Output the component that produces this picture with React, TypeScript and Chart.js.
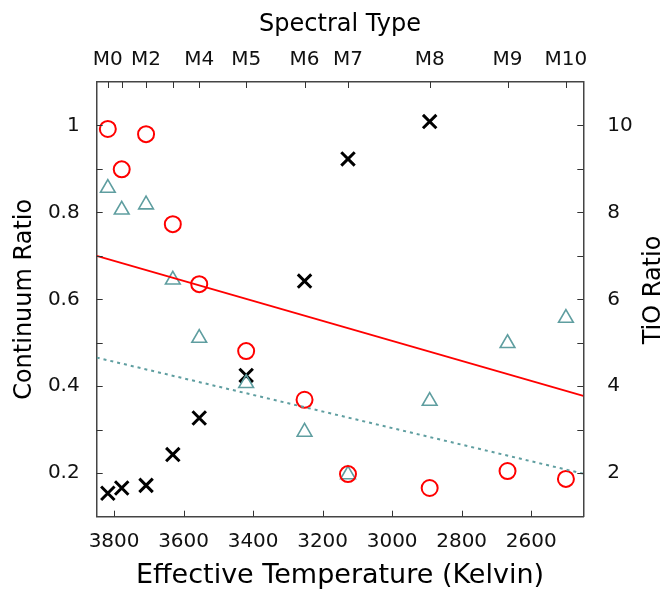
import React, { useEffect, useRef } from 'react';
import { Chart, registerables } from 'chart.js';

Chart.register(...registerables);

// Spectral types and their effective temperatures (K)
const spectralTypes = ['M0', 'M1', 'M2', 'M3', 'M4', 'M5', 'M6', 'M7', 'M8', 'M9', 'M10'];
const spectralLabels = ['M0', '', 'M2', '', 'M4', 'M5', 'M6', 'M7', 'M8', 'M9', 'M10'];
const teff = [3818, 3778, 3708, 3631, 3555, 3420, 3252, 3127, 2892, 2668, 2500];

// Continuum ratio (red circles)
const continuumCircles = [0.992, 0.899, 0.98, 0.773, 0.635, 0.481, 0.369, 0.198, 0.166, 0.205, 0.187];
// Continuum ratio (teal triangles)
const continuumTriangles = [0.856, 0.806, 0.818, 0.645, 0.511, 0.407, 0.295, 0.197, 0.366, 0.499, 0.557];
// TiO ratio (black crosses), M0..M8
const tioTeff = [3818, 3778, 3708, 3631, 3555, 3420, 3252, 3127, 2892];
const tioRatio = [1.54, 1.66, 1.72, 2.43, 3.27, 4.25, 6.42, 9.23, 10.09];

// Linear fits
const fitTeff = [3850, 2450];
const fitCircles = [0.7, 0.378];
const fitTriangles = [0.466, 0.199];

// Axis ticks
const bottomTicks = [3800, 3600, 3400, 3200, 3000, 2800, 2600];
const leftTicks = [0.2, 0.3, 0.4, 0.5, 0.6, 0.7, 0.8, 0.9, 1.0];
const leftLabels = ['0.2', '', '0.4', '', '0.6', '', '0.8', '', '1'];
const rightTicks = [2, 3, 4, 5, 6, 7, 8, 9, 10];
const rightLabels = ['2', '', '4', '', '6', '', '8', '', '10'];

const RED = '#ff0000';
const TEAL = '#5f9ea0';
const FONT = '"DejaVu Sans", Verdana, sans-serif';

const inwardTicks = {
  id: 'inwardTicks',
  afterDraw(chart: any) {
    const { ctx, chartArea: a, scales } = chart;
    const L = 6;
    ctx.save();
    ctx.strokeStyle = '#333';
    ctx.lineWidth = 1;
    const line = (x1: number, y1: number, x2: number, y2: number) => {
      ctx.beginPath();
      ctx.moveTo(x1, y1);
      ctx.lineTo(x2, y2);
      ctx.stroke();
    };
    scales.x.ticks.forEach((t: any) => {
      const p = Math.round(scales.x.getPixelForValue(t.value)) + 0.5;
      line(p, a.bottom, p, a.bottom - L);
    });
    scales.xTop.ticks.forEach((t: any) => {
      const p = Math.round(scales.xTop.getPixelForValue(t.value)) + 0.5;
      line(p, a.top, p, a.top + L);
    });
    scales.y.ticks.forEach((t: any) => {
      const p = Math.round(scales.y.getPixelForValue(t.value)) + 0.5;
      line(a.left, p, a.left + L, p);
    });
    scales.y2.ticks.forEach((t: any) => {
      const p = Math.round(scales.y2.getPixelForValue(t.value)) + 0.5;
      line(a.right, p, a.right - L, p);
    });
    // right axis title, reading bottom-to-top
    ctx.translate(654, 290);
    ctx.rotate(-Math.PI / 2);
    ctx.font = '24px ' + FONT;
    ctx.textAlign = 'center';
    ctx.textBaseline = 'middle';
    ctx.fillStyle = '#000';
    ctx.fillText('TiO Ratio', 0, 0);
    ctx.restore();
  },
};

const gridOpts = { display: true, drawOnChartArea: false, drawTicks: false };
const borderOpts = { display: true, color: '#444', width: 1.5 };

export default function App() {
  const ref = useRef<HTMLCanvasElement>(null);

  useEffect(() => {
    if (!ref.current) return;
    Chart.defaults.font.family = FONT;
    const chart = new Chart(ref.current, {
      type: 'scatter',
      data: {
        datasets: [
          {
            type: 'line',
            label: 'Continuum fit',
            data: fitTeff.map((x, i) => ({ x, y: fitCircles[i] })),
            borderColor: RED,
            borderWidth: 1.8,
            pointRadius: 0,
            fill: false,
            yAxisID: 'y',
          },
          {
            type: 'line',
            label: 'Continuum fit 2',
            data: fitTeff.map((x, i) => ({ x, y: fitTriangles[i] })),
            borderColor: TEAL,
            borderWidth: 2,
            borderDash: [3, 4],
            pointRadius: 0,
            fill: false,
            yAxisID: 'y',
          },
          {
            label: 'Continuum (circles)',
            data: teff.map((x, i) => ({ x, y: continuumCircles[i] })),
            pointStyle: 'circle',
            pointRadius: 8,
            borderWidth: 2,
            borderColor: RED,
            backgroundColor: 'rgba(0,0,0,0)',
            yAxisID: 'y',
          },
          {
            label: 'Continuum (triangles)',
            data: teff.map((x, i) => ({ x, y: continuumTriangles[i] })),
            pointStyle: 'triangle',
            pointRadius: 8.5,
            borderWidth: 1.6,
            borderColor: TEAL,
            backgroundColor: 'rgba(0,0,0,0)',
            yAxisID: 'y',
          },
          {
            label: 'TiO',
            data: tioTeff.map((x, i) => ({ x, y: tioRatio[i] })),
            pointStyle: 'crossRot',
            pointRadius: 9.5,
            borderWidth: 3,
            borderColor: '#000',
            backgroundColor: '#000',
            yAxisID: 'y2',
          },
        ],
      },
      options: {
        animation: false,
        responsive: true,
        maintainAspectRatio: false,
        layout: { padding: 0 },
        plugins: { legend: { display: false }, tooltip: { enabled: false } },
        scales: {
          x: {
            type: 'linear',
            position: 'bottom',
            reverse: true,
            min: 2450,
            max: 3850,
            grid: gridOpts,
            border: borderOpts,
            afterBuildTicks: (s: any) => {
              s.ticks = bottomTicks.map((v) => ({ value: v }));
            },
            afterFit: (s: any) => {
              s.height = 72.3;
            },
            ticks: {
              padding: 13,
              color: '#111',
              font: { size: 20 },
              maxRotation: 0,
              autoSkip: false,
              callback: (v: any) => String(v),
            },
            title: {
              display: true,
              text: 'Effective Temperature (Kelvin)',
              color: '#000',
              font: { size: 27, lineHeight: 1 },
              padding: { top: 0, bottom: 0 },
            },
          },
          xTop: {
            type: 'linear',
            position: 'top',
            reverse: true,
            min: 2450,
            max: 3850,
            grid: gridOpts,
            border: borderOpts,
            afterBuildTicks: (s: any) => {
              s.ticks = teff.map((v) => ({ value: v }));
            },
            afterFit: (s: any) => {
              s.height = 82;
            },
            ticks: {
              padding: 10,
              color: '#111',
              font: { size: 20 },
              maxRotation: 0,
              autoSkip: false,
              callback: (_v: any, i: number) => spectralLabels[i],
            },
            title: {
              display: true,
              text: 'Spectral Type',
              color: '#000',
              font: { size: 24, lineHeight: 1 },
              padding: { top: 13, bottom: 0 },
            },
          },
          y: {
            type: 'linear',
            position: 'left',
            min: 0.1,
            max: 1.1,
            grid: gridOpts,
            border: borderOpts,
            afterBuildTicks: (s: any) => {
              s.ticks = leftTicks.map((v) => ({ value: v }));
            },
            afterFit: (s: any) => {
              s.width = 96.7;
            },
            ticks: {
              padding: 17,
              color: '#111',
              font: { size: 20 },
              autoSkip: false,
              callback: (_v: any, i: number) => leftLabels[i],
            },
            title: {
              display: true,
              text: 'Continuum Ratio',
              color: '#000',
              font: { size: 24, lineHeight: 1 },
              padding: { top: 13, bottom: 0 },
            },
          },
          y2: {
            type: 'linear',
            position: 'right',
            min: 1,
            max: 11,
            grid: gridOpts,
            border: borderOpts,
            afterBuildTicks: (s: any) => {
              s.ticks = rightTicks.map((v) => ({ value: v }));
            },
            afterFit: (s: any) => {
              s.width = 78.7;
            },
            ticks: {
              padding: 24,
              color: '#111',
              font: { size: 20 },
              autoSkip: false,
              callback: (_v: any, i: number) => rightLabels[i],
            },
          },
        },
      },
      plugins: [inwardTicks],
    } as any);
    return () => chart.destroy();
  }, []);

  return (
    <div style={{ position: 'fixed', left: 0, top: 0, width: 662, height: 589, background: '#fff' }}>
      <canvas ref={ref} />
    </div>
  );
}
